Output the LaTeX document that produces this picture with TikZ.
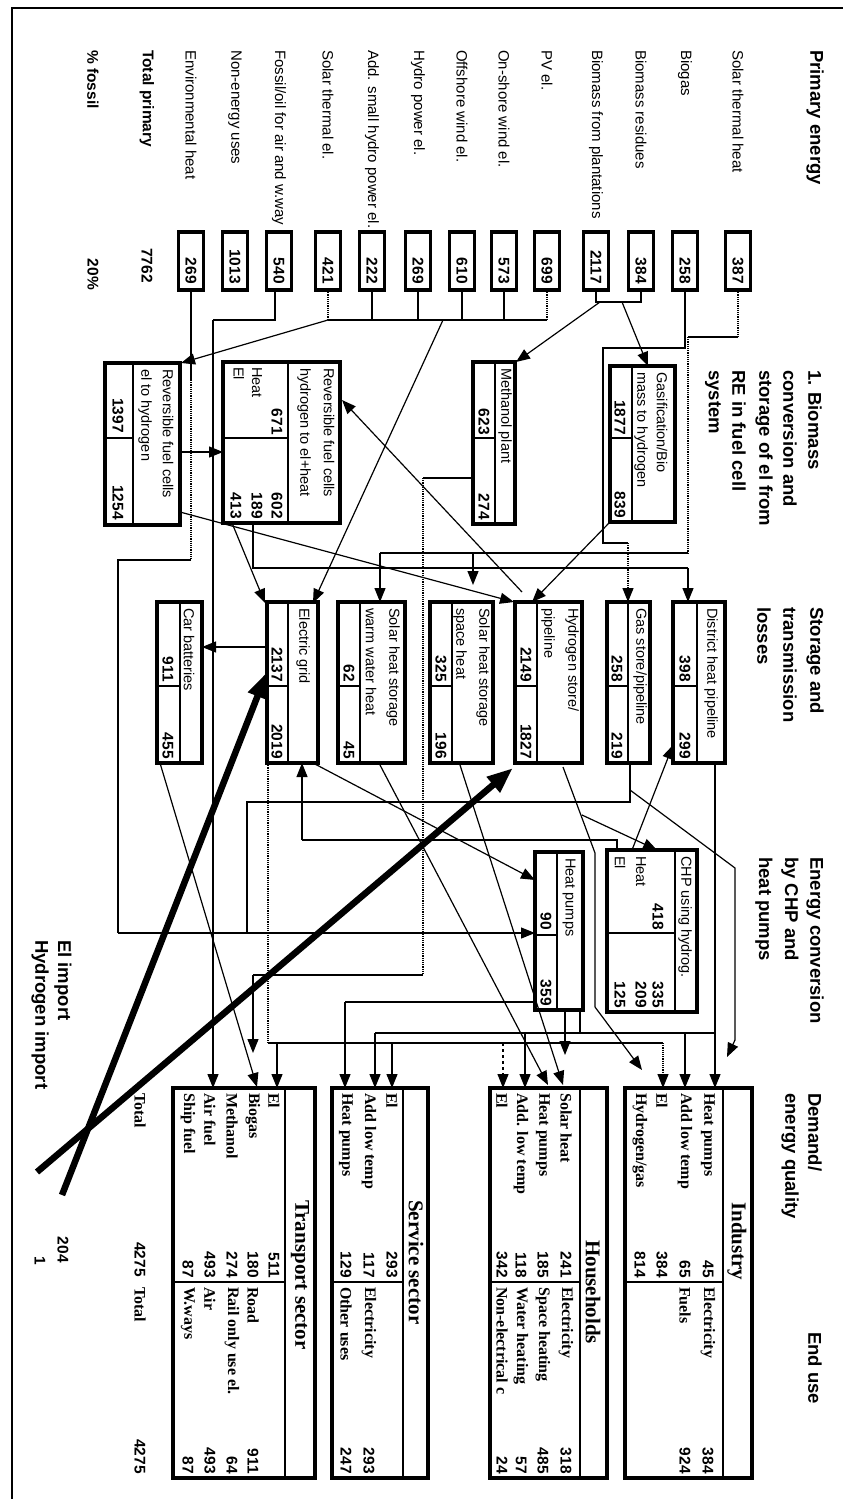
\documentclass[tikz,border=0pt]{standalone}
\usepackage{fontspec}
\setmainfont{Liberation Serif}
\setsansfont{Liberation Sans}
\usetikzlibrary{arrows.meta}
\newcommand\ebox[5]{\node[bx, minimum width={(#4)-(#2)}, minimum height={(#5)-(#3)}] (#1) at ({((#2)+(#4))/2},{((#3)+(#5))/2}) {};}
\begin{document}
\begin{tikzpicture}[x=1pt,y=1pt,
  hd/.style={font=\sffamily\bfseries\fontsize{18.5}{20}\selectfont, anchor=west, inner sep=0pt},
  lbl/.style={font=\sffamily\fontsize{15}{17}\selectfont, anchor=west, inner sep=0pt},
  num/.style={font=\sffamily\bfseries\fontsize{15.5}{17}\selectfont, anchor=east, inner sep=0pt},
  btx/.style={font=\sffamily\fontsize{14.5}{16}\selectfont, anchor=west, inner sep=0pt},
  tl/.style={font=\rmfamily\bfseries\fontsize{16}{18}\selectfont, anchor=west, inner sep=0pt},
  tn/.style={font=\sffamily\bfseries\fontsize{15.5}{17}\selectfont, anchor=east, inner sep=0pt},
  tt/.style={font=\rmfamily\bfseries\fontsize{21}{23}\selectfont, anchor=west, inner sep=0pt},
  bx/.style={draw, line width=3.2pt, inner sep=0pt, outer sep=0pt},
  dv/.style={line width=2pt},
  cn/.style={line width=1.2pt},
  ar/.style={cn, -{Triangle[length=14pt,width=11pt]}},
  dt/.style={cn, densely dotted},
  big/.style={line width=6.5pt, -{Triangle[length=26pt,width=19pt]}}]
\useasboundingbox (0,0) rectangle (843,-1499);
\begin{scope}[rotate=-90, transform shape]
% frame
\draw[line width=2.5pt] (1499,12) -- (8,12) -- (8,843);
% headings
\node[hd] (h1) at (50,815) {Primary energy};
\node[hd] (h2a) at (370,815) {1. Biomass};
\node[hd] (h2b) at (370,790) {conversion and};
\node[hd] (h2c) at (370,764) {storage of el from};
\node[hd] (h2d) at (370,739) {RE in fuel cell};
\node[hd] (h2e) at (370,713) {system};
\node[hd] (h3a) at (607,815) {Storage and};
\node[hd] (h3b) at (607,790) {transmission};
\node[hd] (h3c) at (607,764) {losses};
\node[hd] (h4a) at (857,815) {Energy conversion};
\node[hd] (h4b) at (857,790) {by CHP and};
\node[hd] (h4c) at (857,764) {heat pumps};
\node[hd] (h5a) at (1093,815) {Demand/};
\node[hd] (h5b) at (1093,790) {energy quality};
\node[hd] (h6) at (1332,815) {End use};
% primary energy
\foreach \n/\c/\v/\t in {p1/738/387/Solar thermal heat, p2/685/258/Biogas, p3/641/384/Biomass residues,
  p4/596/2117/Biomass from plantations, p5/547/699/PV el., p6/504/573/On-shore wind el.,
  p7/462/610/Offshore wind el., p8/418/269/Hydro power el., p9/372/222/Add. small hydro power el.,
  p10/328/421/Solar thermal el., p12/235/1013/Non-energy uses, p13/191/269/Environmental heat}{
  \ebox{\n}{232}{\c-12.5}{290}{\c+12.5}
  \node[lbl] (\n l) at (50,\c) {\t};
  \node[num] (\n v) at (284,\c) {\v};
}
\ebox{p11}{232}{266.5}{290}{291.5}
\node[lbl] (p11l) at (50,279) {Fossil/oil for air and w.way};
\node[num] (p11v) at (284,279) {540};
\node[hd, font=\sffamily\bfseries\fontsize{15.5}{17}\selectfont] (tp) at (50,147) {Total primary};
\node[num] (tpv) at (283,147) {7762};
\node[hd, font=\sffamily\bfseries\fontsize{15.5}{17}\selectfont] (pf) at (50,93) {\% fossil};
\node[num] (pfv) at (290,93) {20\%};
% column 2
\ebox{gas}{366}{610}{522}{675}
\draw[dv] (366,632) -- (522,632); \draw[dv] (438,610) -- (438,632);
\node[btx] at (372,662) {Gasification/Bio}; \node[btx] at (372,641) {mass to hydrogen};
\node[num] at (435,620) {1877}; \node[num] at (518,620) {839};
\ebox{meth}{362}{473}{524}{515}
\draw[dv] (362,495) -- (524,495); \draw[dv] (438,473) -- (438,495);
\node[btx] at (368,505) {Methanol plant};
\node[num] at (435,484) {623}; \node[num] at (520,484) {274};
\ebox{rfa}{362}{223}{523}{340}
\draw[dv] (362,288) -- (523,288); \draw[dv] (438,223) -- (438,288);
\node[btx] at (368,329) {Reversible fuel cells}; \node[btx] at (368,304) {hydrogen to el+heat};
\node[num] at (435,277) {671}; \node[num] at (519,277) {602};
\node[btx] at (367,257) {Heat}; \node[num] at (519,257) {189};
\node[btx] at (367,239) {El}; \node[num] at (519,236) {413};
\ebox{rfb}{363}{105}{525}{180}
\draw[dv] (363,133) -- (525,133); \draw[dv] (438,105) -- (438,133);
\node[btx] at (369,168) {Reversible fuel cells}; \node[btx] at (369,145) {el to hydrogen};
\node[num] at (433,118) {1397}; \node[num] at (520,118) {1254};
% storage column
\ebox{dh}{602}{673}{763}{725}
\draw[dv] (602,697) -- (763,697); \draw[dv] (686,673) -- (686,697);
\node[btx] at (608,711) {District heat pipeline};
\node[num] at (682,685) {398}; \node[num] at (759,685) {299};
\ebox{gs}{602}{607}{763}{650}
\draw[dv] (602,628) -- (763,628); \draw[dv] (686,607) -- (686,628);
\node[btx] at (608,640) {Gas store/pipeline};
\node[num] at (682,617) {258}; \node[num] at (759,617) {219};
\ebox{hs}{602}{515}{763}{582}
\draw[dv] (602,537) -- (763,537); \draw[dv] (686,515) -- (686,537);
\node[btx] at (608,572) {Hydrogen store/}; \node[btx] at (608,548) {pipeline};
\node[num] at (682,526) {2149}; \node[num] at (759,526) {1827};
\ebox{ss}{602}{430}{763}{493}
\draw[dv] (602,452) -- (763,452); \draw[dv] (686,430) -- (686,452);
\node[btx] at (608,483) {Solar heat storage}; \node[btx] at (608,460) {space heat};
\node[num] at (682,441) {325}; \node[num] at (759,441) {196};
\ebox{sw}{602}{338}{763}{405}
\draw[dv] (602,360) -- (763,360); \draw[dv] (686,338) -- (686,360);
\node[btx] at (608,393) {Solar heat storage}; \node[btx] at (608,371) {warm water heat};
\node[num] at (682,349) {62}; \node[num] at (759,349) {45};
\ebox{eg}{602}{267}{763}{318}
\draw[dv] (602,288) -- (763,288); \draw[dv] (686,267) -- (686,288);
\node[btx] at (608,303) {Electric grid};
\node[num] at (682,277) {2137}; \node[num] at (759,277) {2019};
\ebox{cb}{602}{157}{763}{202}
\draw[dv] (602,180) -- (763,180); \draw[dv] (686,157) -- (686,180);
\node[btx] at (608,189) {Car batteries};
\node[num] at (682,168) {911}; \node[num] at (759,168) {455};
% conversion
\ebox{chp}{850}{607}{1012}{697}
\draw[dv] (850,675) -- (1012,675); \draw[dv] (933,607) -- (933,675);
\node[btx] at (856,685) {CHP using hydrog.};
\node[num] at (930,658) {418}; \node[num] at (1008,658) {335};
\node[btx] at (856,641) {Heat}; \node[num] at (1008,641) {209};
\node[btx] at (856,620) {El}; \node[num] at (1008,620) {125};
\ebox{hp}{852}{535}{1010}{583}
\draw[dv] (852,557) -- (1010,557); \draw[dv] (935,535) -- (935,557);
\node[btx] at (858,569) {Heat pumps};
\node[num] at (930,546) {90}; \node[num] at (1006,546) {359};
% end use tables
\ebox{ind}{1088}{625}{1478}{752}
\draw[dv] (1088,723) -- (1478,723); \draw[dv] (1282,625) -- (1282,723);
\node[tt] at (1202,737) {Industry};
\node[tl] at (1093,708) {Heat pumps}; \node[tn] at (1278,708) {45};
\node[tl] at (1093,685) {Add low temp}; \node[tn] at (1278,685) {65};
\node[tl] at (1093,662) {El}; \node[tn] at (1278,662) {384};
\node[tl] at (1093,640) {Hydrogen/gas}; \node[tn] at (1278,640) {814};
\node[tl] at (1287,708) {Electricity}; \node[tn] at (1474,708) {384};
\node[tl] at (1287,685) {Fuels}; \node[tn] at (1474,685) {924};
\ebox{hh}{1088}{490}{1478}{607}
\draw[dv] (1088,580) -- (1478,580); \draw[dv] (1282,490) -- (1282,580);
\node[tt] at (1240,593) {Households};
\node[tl] at (1093,566) {Solar heat}; \node[tn] at (1278,566) {241};
\node[tl] at (1093,543) {Heat pumps}; \node[tn] at (1278,543) {185};
\node[tl] at (1093,521) {Add. low temp}; \node[tn] at (1278,521) {118};
\node[tl] at (1093,502) {El}; \node[tn] at (1278,502) {342};
\node[tl] at (1287,566) {Electricity}; \node[tn] at (1474,566) {318};
\node[tl] at (1287,543) {Space heating}; \node[tn] at (1474,543) {485};
\node[tl] at (1287,521) {Water heating}; \node[tn] at (1474,521) {57};
\node[tl] at (1287,502) {Non-electrical c}; \node[tn] at (1474,502) {24};
\ebox{sv}{1088}{332}{1478}{428}
\draw[dv] (1088,403) -- (1478,403); \draw[dv] (1282,332) -- (1282,403);
\node[tt] at (1200,416) {Service sector};
\node[tl] at (1093,392) {El}; \node[tn] at (1278,392) {293};
\node[tl] at (1093,369) {Add low temp}; \node[tn] at (1278,369) {117};
\node[tl] at (1093,346) {Heat pumps}; \node[tn] at (1278,346) {129};
\node[tl] at (1287,369) {Electricity}; \node[tn] at (1474,369) {293};
\node[tl] at (1287,346) {Other uses}; \node[tn] at (1474,346) {247};
\ebox{tr}{1088}{173}{1478}{315}
\draw[dv] (1088,285) -- (1478,285); \draw[dv] (1282,173) -- (1282,285);
\node[tt] at (1200,300) {Transport sector};
\node[tl] at (1093,274) {El}; \node[tn] at (1278,274) {511};
\node[tl] at (1093,253) {Biogas}; \node[tn] at (1278,253) {180};
\node[tl] at (1093,232) {Methanol}; \node[tn] at (1278,232) {274};
\node[tl] at (1093,210) {Air fuel}; \node[tn] at (1278,210) {493};
\node[tl] at (1093,188) {Ship fuel}; \node[tn] at (1278,188) {87};
\node[tl] at (1287,253) {Road}; \node[tn] at (1474,253) {911};
\node[tl] at (1287,232) {Rail only use el.}; \node[tn] at (1474,232) {64};
\node[tl] at (1287,210) {Air}; \node[tn] at (1474,210) {493};
\node[tl] at (1287,188) {W.ways}; \node[tn] at (1474,188) {87};
% totals
\node[tl] (tot1) at (1093,140) {Total}; \node[tn] at (1277,140) {4275};
\node[tl] (tot2) at (1287,140) {Total}; \node[tn] at (1474,140) {4275};
\node[hd] (eli) at (940,63) {El import}; \node[tn] at (1263,63) {204};
\node[hd] (hyi) at (940,40) {Hydrogen import}; \node[tn] at (1265,40) {1};
% thick import arrows
\coordinate (ei0) at (1195,62); \coordinate (hi0) at (1172,37);
\draw[big] (ei0) -- (672,267);
\draw[big] (hi0) -- (768,513);
% connectors: primary side
\draw[cn] (290,596) -- (302,596) -- (302,641) -- (290,641);
\draw[ar] (302,622) -- (366,648);
\draw[ar] (302,600) -- (362,516);
\draw[cn] (290,685) -- (348,685) -- (348,603) -- (543,603) -- (543,628);
\draw[ar, densely dotted] (543,628) -- (602,628);
\draw[dt] (290,738) -- (337,738);
\draw[cn] (337,738) -- (337,688);
\draw[dt] (337,688) -- (553,688);
\draw[cn] (553,688) -- (553,380);
\draw[ar] (553,380) -- (602,380);
\draw[ar] (553,473) -- (585,473);
\draw[cn] (523,253) -- (568,253) -- (568,688);
\draw[ar] (568,688) -- (602,688);
\draw[ar] (522,610) -- (602,532);
\foreach \c in {504,462,418,372} \draw[cn] (290,\c) -- (320,\c);
\draw[dt] (290,547) -- (320,547); \draw[dt] (290,328) -- (320,328);
\draw[cn] (320,328) -- (320,547);
\draw[ar] (320,443) -- (603,313);
\draw[ar] (320,328) -- (363,181);
\draw[cn] (290,275) -- (320,275) -- (320,213);
\draw[ar] (320,213) -- (1088,213);
\draw[cn] (290,191) -- (380,191);
\draw[dt] (380,191) -- (560,191);
\draw[cn] (560,191) -- (560,118) -- (933,118);
\draw[ar] (933,118) -- (933,535);
\draw[ar] (452,180) -- (452,223);
\draw[ar] (512,180) -- (602,514);
\draw[ar] (592,522) -- (400,342);
\draw[ar] (523,232) -- (603,265);
% connectors: storage side
\draw[ar] (647,267) -- (647,202);
\draw[ar] (763,313) -- (880,535);
\draw[cn] (850,617) -- (840,617) -- (840,302);
\draw[ar] (840,302) -- (763,302);
\draw[ar] (850,632) -- (745,673);
\draw[cn] (478,473) -- (478,423);
\draw[dt] (478,423) -- (975,423);
\draw[cn] (975,423) -- (975,253);
\draw[ar] (975,253) -- (1053,253);
\draw[cn] (767,563) -- (853,595) -- (1007,595);
\draw[ar] (1007,595) -- (1070,642);
\draw[ar] (815,582) -- (850,657);
\draw[ar] (765,380) -- (1085,548);
\draw[ar] (765,460) -- (1085,563);
\draw[cn] (763,630) -- (802,630) -- (802,247) -- (933,247);
\draw[cn] (790,630) -- (868,735) -- (1040,735);
\draw[ar] (1040,735) -- (1057,727);
\draw[ar] (763,160) -- (1087,257);
% district heat distribution
\draw[ar] (763,715) -- (1088,715);
\draw[cn] (1033,715) -- (1033,375);
\draw[ar] (1033,685) -- (1088,685);
\draw[ar] (1033,525) -- (1088,525);
\draw[ar] (1033,375) -- (1088,375);
% heat pump outputs
\draw[cn] (1010,580) -- (1033,580);
\draw[ar] (1010,565) -- (1055,565);
\draw[cn] (1002,535) -- (1002,345);
\draw[ar] (1002,345) -- (1088,345);
% electricity distribution
\draw[dt] (763,268) -- (1043,268);
\draw[cn] (1043,268) -- (1043,663);
\draw[ar] (1043,277) -- (1088,277);
\draw[ar] (1043,392) -- (1088,392);
\draw[ar, dashed] (1043,503) -- (1088,503);
\draw[ar, densely dotted] (1043,663) -- (1088,663);
\end{scope}
\end{tikzpicture}
\end{document}
